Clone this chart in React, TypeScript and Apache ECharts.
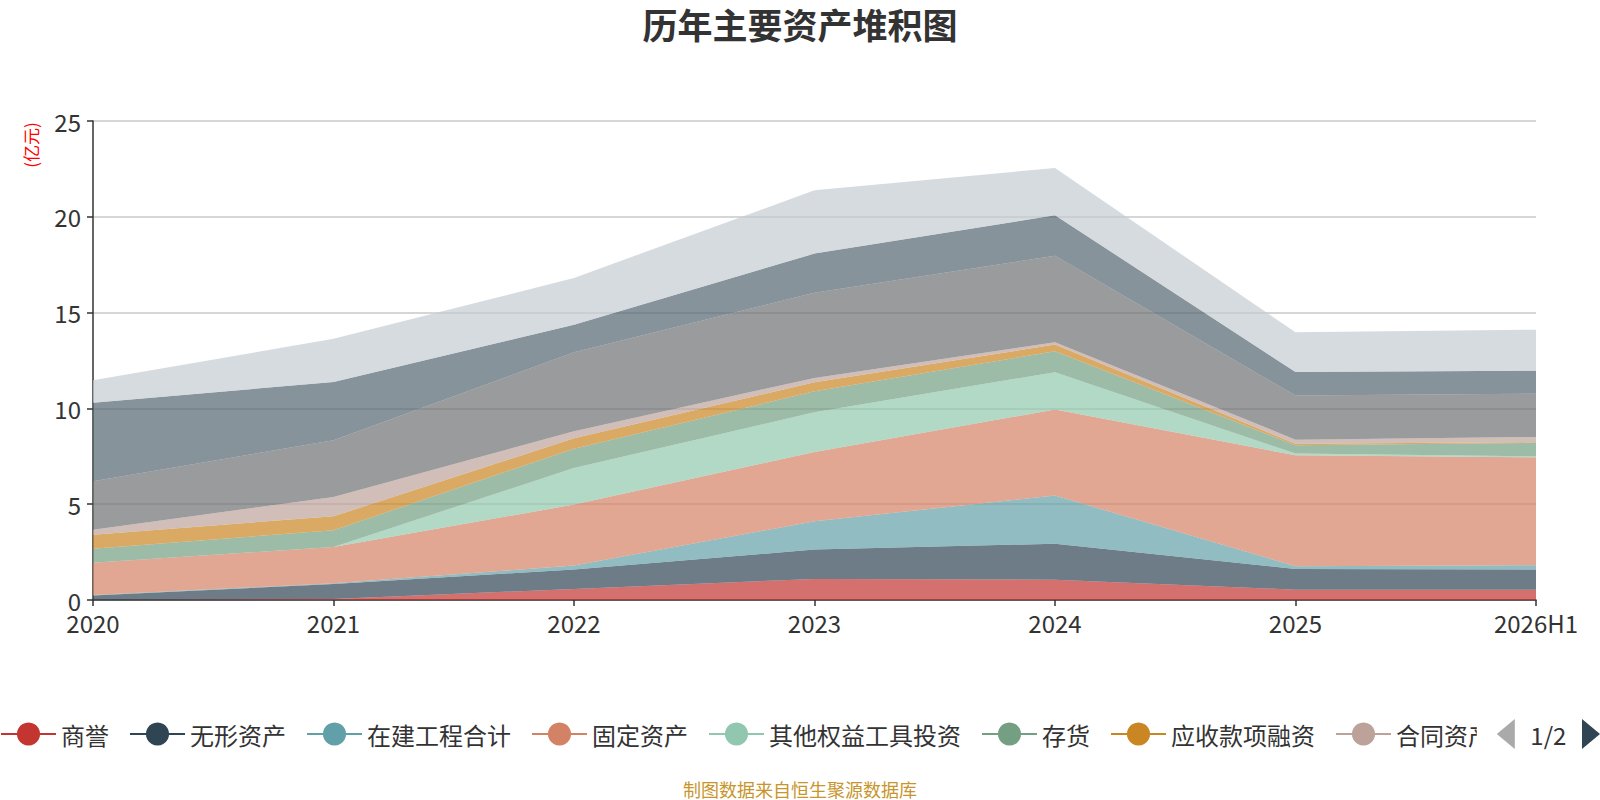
import React, { useEffect, useRef } from "react";
import * as echarts from "echarts";

const categories = ["2020", "2021", "2022", "2023", "2024", "2025", "2026H1"];
const seriesNames = [
  "商誉",
  "无形资产",
  "在建工程合计",
  "固定资产",
  "其他权益工具投资",
  "存货",
  "应收款项融资",
  "合同资产",
  "应收账款",
  "交易性金融资产",
  "货币资金",
];
const goodwill = [0, 0.05, 0.58, 1.1, 1.06, 0.54, 0.54];
const intangible = [0.23, 0.79, 1.01, 1.53, 1.88, 1.08, 1.05];
const construction = [0.03, 0.03, 0.21, 1.48, 2.51, 0.14, 0.22];
const fixedAssets = [1.68, 1.9, 3.18, 3.62, 4.49, 5.79, 5.64];
const otherEquity = [0, 0, 1.91, 2.07, 1.95, 0.09, 0.05];
const inventory = [0.74, 0.87, 1.01, 1.09, 1.09, 0.44, 0.7];
const receivableFinancing = [0.73, 0.73, 0.54, 0.47, 0.35, 0.08, 0.03];
const contractAssets = [0.26, 1.01, 0.37, 0.23, 0.12, 0.21, 0.28];
const receivables = [2.53, 2.96, 4.12, 4.44, 4.52, 2.3, 2.26];
const tradingAssets = [4.09, 3.04, 1.44, 2.05, 2.11, 1.23, 1.2];
const cash = [1.18, 2.25, 2.44, 3.3, 2.47, 2.07, 2.14];
const seriesValues = [
  goodwill,
  intangible,
  construction,
  fixedAssets,
  otherEquity,
  inventory,
  receivableFinancing,
  contractAssets,
  receivables,
  tradingAssets,
  cash,
];
const colors = [
  "#c23531",
  "#2f4554",
  "#61a0a8",
  "#d48265",
  "#91c7ae",
  "#749f83",
  "#ca8622",
  "#bda29a",
  "#6e7074",
  "#546570",
  "#c4ccd3",
];
const yTicks = { min: 0, max: 25, interval: 5 };

const FONT = "'Noto Sans CJK SC', 'Noto Sans', sans-serif";

export default function App() {
  const ref = useRef<HTMLDivElement>(null);
  useEffect(() => {
    document.body.style.margin = "0";
    if (!ref.current) return;
    const chart = echarts.init(ref.current, null, { renderer: "svg" });
    chart.setOption({
      animation: false,
      color: colors,
      textStyle: { fontFamily: FONT },
      title: {
        text: "历年主要资产堆积图",
        left: "center",
        top: 6,
        padding: 0,
        textStyle: { fontSize: 35, fontWeight: "bold", color: "#333", fontFamily: FONT },
      },
      legend: {
        type: "scroll",
        left: 0,
        right: 0,
        top: 719,
        padding: 0,
        itemWidth: 55,
        itemHeight: 29,
        itemGap: 20,
        lineStyle: { width: 2 },
        textStyle: { fontSize: 24, color: "#333", fontFamily: FONT },
        pageIconSize: [18, 30],
        pageIconColor: "#2f4554",
        pageIconInactiveColor: "#aaa",
        pageTextStyle: { fontSize: 24, color: "#333", fontFamily: FONT },
        data: seriesNames,
      },
      grid: { left: 93, right: 64, top: 121, bottom: 200 },
      xAxis: {
        type: "category",
        boundaryGap: false,
        data: categories,
        axisLine: { lineStyle: { color: "#333", width: 1.5 } },
        axisTick: { show: true, length: 6, lineStyle: { color: "#333", width: 1.5 } },
        axisLabel: { fontSize: 24, color: "#333", margin: 10, fontFamily: FONT },
      },
      yAxis: {
        type: "value",
        min: yTicks.min,
        max: yTicks.max,
        interval: yTicks.interval,
        axisLine: { show: true, lineStyle: { color: "#333", width: 1.5 } },
        axisTick: { show: true, length: 6, lineStyle: { color: "#333", width: 1.5 } },
        axisLabel: { fontSize: 24, color: "#333", margin: 12, fontFamily: FONT },
        splitLine: { lineStyle: { color: "#c8c8c8", width: 1.5 } },
      },
      graphic: [
        {
          type: "text",
          x: 30,
          y: 145,
          rotation: Math.PI / 2,
          style: {
            text: "(亿元)",
            fill: "#ff0000",
            fontSize: 17,
            fontFamily: FONT,
            textAlign: "center",
            textVerticalAlign: "middle",
          },
        },
        {
          type: "text",
          x: 800,
          y: 789,
          style: {
            text: "制图数据来自恒生聚源数据库",
            fill: "#c8952c",
            fontSize: 18,
            fontFamily: FONT,
            textAlign: "center",
            textVerticalAlign: "middle",
          },
        },
      ],
      series: seriesNames.map((name, i) => ({
        name,
        type: "line",
        stack: "total",
        data: seriesValues[i],
        symbol: "circle",
        showSymbol: false,
        lineStyle: { width: 0 },
        areaStyle: { opacity: 0.7 },
        emphasis: { disabled: true },
      })),
    });
    return () => chart.dispose();
  }, []);
  return <div ref={ref} style={{ width: 1600, height: 800 }} />;
}
